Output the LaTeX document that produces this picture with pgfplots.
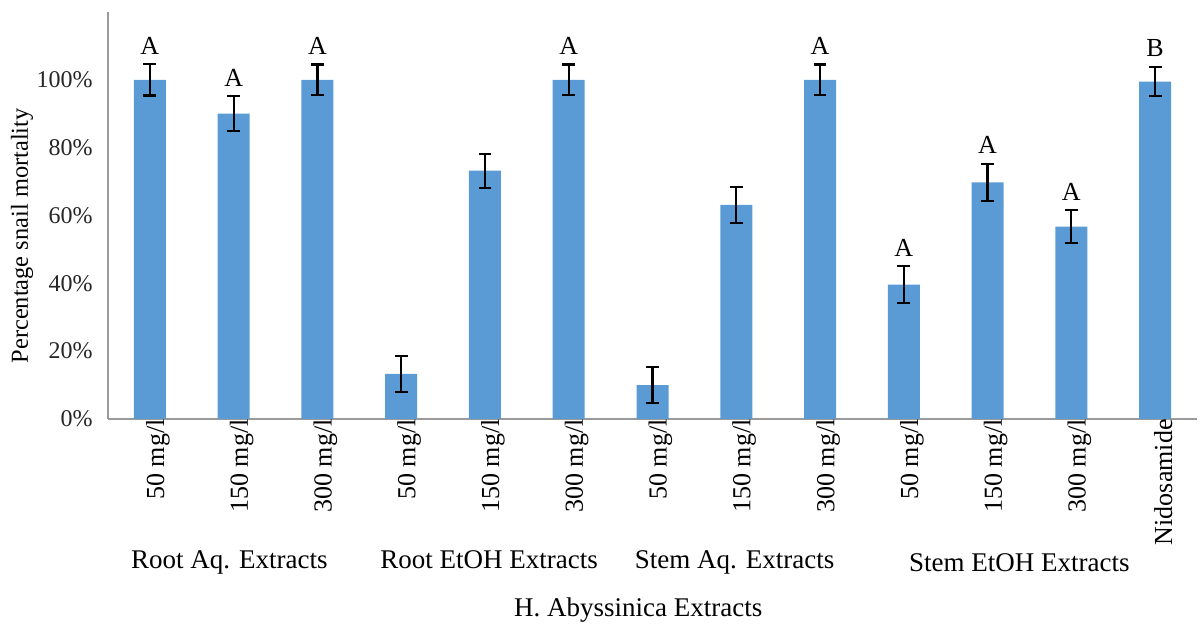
\documentclass[border=0pt]{standalone}
\usepackage{fontspec}
\setmainfont{Liberation Serif}
\usepackage{pgfplots}
\usepackage{pgfplotstable}
\pgfplotsset{compat=1.18}
\definecolor{barblue}{HTML}{5B9BD5}
\definecolor{axgray}{HTML}{9A9A9A}
\pgfplotstableread{
x y e
0 100 4.6
1 90 5.2
2 100 4.5
3 13.3 5.3
4 73.2 5.0
5 100 4.5
6 10 5.3
7 63.1 5.3
8 100 4.5
9 39.6 5.5
10 69.8 5.5
11 56.7 4.9
12 99.5 4.3
}\data
\begin{document}
\begin{tikzpicture}
\useasboundingbox (-54pt,-105.5pt) rectangle (546.5pt,209.5pt);
\begin{axis}[
  at={(0,0)}, anchor=south west,
  scale only axis, width=544.5pt, height=203.5pt,
  xmin=-0.5, xmax=12.5, ymin=0, ymax=120,
  axis x line=bottom, axis y line=left,
  axis line style={-, axgray, line width=1pt},
  major tick length=0pt,
  xtick={0,...,12},
  xticklabels={50 mg/l,150 mg/l,300 mg/l,50 mg/l,150 mg/l,300 mg/l,50 mg/l,150 mg/l,300 mg/l,50 mg/l,150 mg/l,300 mg/l,Nidosamide},
  xticklabel style={rotate=90, anchor=east, font=\fontsize{13pt}{15pt}\selectfont, inner sep=0pt, yshift=-4pt},
  ytick={0,20,40,60,80,100},
  yticklabels={0\%,20\%,40\%,60\%,80\%,100\%},
  yticklabel style={font=\fontsize{12pt}{14pt}\selectfont, inner sep=0pt, xshift=-7.5pt, text=black!85},
  ylabel={Percentage snail mortality},
  ylabel style={at={(axis description cs:-0.079,0.45)}, anchor=center, font=\fontsize{12.2pt}{14pt}\selectfont},
  clip=false,
]
\addplot[ybar, bar width=16pt, fill=barblue, draw=none,
  error bars/.cd, y dir=both, y explicit,
  error bar style={black, line width=1.1pt},
  error mark options={rotate=90, mark size=3.2pt, black, line width=1.1pt}]
  table[x=x, y=y, y error=e]{\data};
\foreach \xx/\yy/\ll in {0/104.6/A,1/95.2/A,2/104.5/A,5/104.5/A,8/104.5/A,9/45.1/A,10/75.3/A,11/61.6/A,12/103.8/B}{
  \edef\tmp{\noexpand\node[anchor=base, inner sep=0pt, yshift=5pt, font=\noexpand\fontsize{13pt}{15pt}\noexpand\selectfont] at (axis cs:\xx,\yy) {\ll};}
  \tmp
}
\node[anchor=base, font=\fontsize{13.5pt}{16pt}\selectfont] at (axis cs:0.95,0) [yshift=-75pt] {Root Aq. Extracts};
\node[anchor=base, font=\fontsize{13.5pt}{16pt}\selectfont] at (axis cs:4.05,0) [yshift=-75pt] {Root EtOH Extracts};
\node[anchor=base, font=\fontsize{13.5pt}{16pt}\selectfont] at (axis cs:6.98,0) [yshift=-75pt] {Stem Aq. Extracts};
\node[anchor=base, font=\fontsize{13.5pt}{16pt}\selectfont] at (axis cs:10.38,0) [yshift=-76.5pt] {Stem EtOH Extracts};
\node[anchor=base, font=\fontsize{13.5pt}{16pt}\selectfont] at (axis cs:5.83,0) [yshift=-99pt] {H. Abyssinica Extracts};
\end{axis}
\end{tikzpicture}
\end{document}
